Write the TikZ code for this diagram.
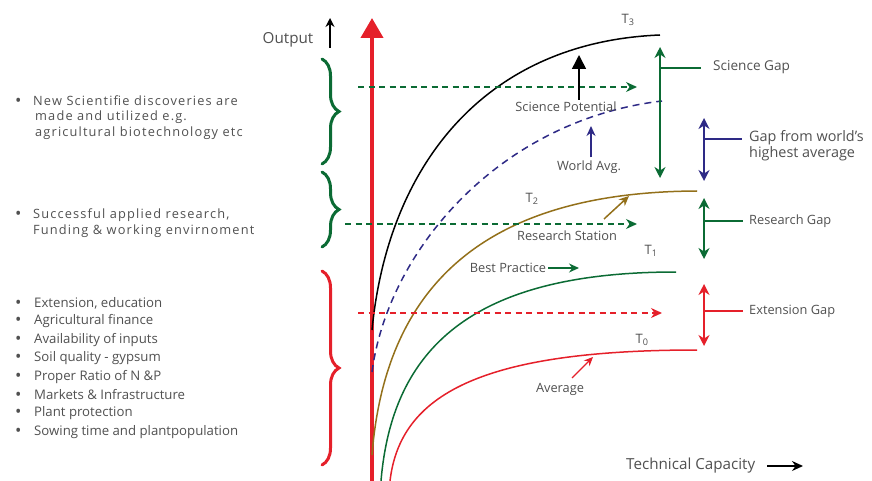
\documentclass[tikz,border=0pt]{standalone}
\usepackage{fontspec}
\setmainfont{Open Sans}
\newfontfamily\spacedfont[LetterSpace=9]{Open Sans}
\usetikzlibrary{arrows.meta,decorations.pathreplacing}

\definecolor{axisred}{HTML}{E5202A}
\definecolor{gapgreen}{HTML}{0B6B34}
\definecolor{worldblue}{HTML}{2E2A86}
\definecolor{stationbrown}{HTML}{93701A}
\definecolor{txtgray}{HTML}{505050}

\newcommand{\dotitem}[1]{\makebox[#1][l]{\raisebox{-1.2pt}{\fontsize{17}{17}\selectfont•}}}

\tikzset{
  lbl/.style={text=txtgray, inner sep=0pt, font=\fontsize{12.8}{15}\selectfont},
  biglbl/.style={lbl, font=\fontsize{15.2}{18}\selectfont},
  tlbl/.style={lbl, font=\fontsize{13}{15}\selectfont},
  curve/.style={line width=1.5pt},
  hdash/.style={line width=1.4pt, dash pattern=on 6pt off 4.5pt, -{Stealth[length=11pt,width=10pt]}},
  gap/.style={line width=2pt, {Stealth[length=11pt,width=11pt]}-{Stealth[length=11pt,width=11pt]}},
  ptr/.style={line width=1.5pt, -{Stealth[length=10pt,width=9pt]}},
  curly/.style={line width=3pt, line cap=round, decorate, decoration={brace, amplitude=17pt}}
}

\begin{document}
\begin{tikzpicture}[x=1pt, y=-1pt]
  \useasboundingbox (0,0) rectangle (872,481);

  % axes
  \draw[axisred, line width=4pt, -{Triangle[length=20pt,width=22pt]}] (372,481) -- (372,18);
  \node[biglbl] (out) at (288,40) {Output};
  \coordinate (outTip) at (330,18);
  \draw[line width=1.5pt, -{Stealth[length=9pt,width=9pt]}] (outTip |- out.south) -- (outTip);
  \node[biglbl, anchor=west] (tcap) at (626,466) {Technical Capacity};
  \coordinate (tcapTip) at (803,466);
  \draw[line width=1.5pt, -{Stealth[length=11pt,width=10pt]}] ([xshift=12pt]tcap.east) -- (tcapTip);

  % production curves
  \draw[curve, black] (372,330) .. controls (388,165) and (485,42) .. (660,35);
  \draw[curve, worldblue, dash pattern=on 7pt off 5pt] (372,372) .. controls (388,250) and (500,120) .. (662,101);
  \draw[curve, stationbrown] (372,455) .. controls (385,290) and (480,192) .. (697,191);
  \draw[curve, gapgreen] (381,481) .. controls (392,350) and (470,272) .. (676,272);
  \draw[curve, axisred] (390,481) .. controls (400,395) and (480,350) .. (697,350);

  \node[tlbl] (t3) at (628,20) {T\textsubscript{3}};
  \node[tlbl] (t2) at (532,199) {T\textsubscript{2}};
  \node[tlbl] (t1) at (651,251) {T\textsubscript{1}};
  \node[tlbl] (t0) at (642,340) {T\textsubscript{0}};

  % dashed levels
  \draw[hdash, gapgreen] (358,87) -- (637,87);
  \draw[hdash, gapgreen] (345,224) -- (637,224);
  \draw[hdash, axisred] (358,313) -- (662,313);

  % pointers to the curves
  \node[lbl] (spot) at (566,107) {Science Potential};
  \coordinate (spotTip) at (579,55);
  \draw[line width=1.5pt, -{Triangle[length=14pt,width=14pt]}] (spotTip |- spot.north) ++(0,-2) -- (spotTip);
  \node[lbl] (wavg) at (589,167) {World Avg.};
  \coordinate (wavgTip) at (591,126);
  \draw[ptr, worldblue] (wavgTip |- wavg.north) ++(0,-3) -- (wavgTip);
  \node[lbl] (rstat) at (567,236) {Research Station};
  \coordinate (rstatTip) at (629,196);
  \draw[ptr, stationbrown] (604,219) -- (rstatTip);
  \node[lbl] (bprac) at (508,268) {Best Practice};
  \coordinate (bpracTip) at (579,268);
  \draw[ptr, gapgreen] ([xshift=2pt]bprac.east) -- (bpracTip);
  \node[lbl] (avg) at (560,389) {Average};
  \coordinate (avgTip) at (593,357);
  \draw[line width=1.2pt, axisred, -{Stealth[length=9pt,width=8pt]}] (572,378) -- (avgTip);

  % gaps
  \coordinate (sgTop) at (660,47);   \coordinate (sgBot) at (660,178);
  \coordinate (wgTop) at (704,118);  \coordinate (wgBot) at (704,181);
  \coordinate (rgTop) at (704,198);  \coordinate (rgBot) at (704,259);
  \coordinate (egTop) at (704,284);  \coordinate (egBot) at (704,346);
  \draw[gap, gapgreen] (sgTop) -- (sgBot);
  \draw[gap, worldblue] (wgTop) -- (wgBot);
  \draw[gap, gapgreen] (rgTop) -- (rgBot);
  \draw[gap, axisred] (egTop) -- (egBot);

  \node[lbl, anchor=west, font=\fontsize{13.6}{16}\selectfont] (sg) at (713,67) {Science Gap};
  \node[lbl, anchor=west, align=left, font=\fontsize{14.4}{16}\selectfont] (wg) at (749,146) {Gap from world’s\\highest average};
  \node[lbl, anchor=west] (rg) at (749,221) {Research Gap};
  \node[lbl, anchor=west] (eg) at (749,311) {Extension Gap};
  \draw[gapgreen, line width=1.5pt] (sgTop |- 0,68) -- (701,68);
  \draw[worldblue, line width=1.5pt] (wgTop |- 0,139) -- (742,139);
  \draw[gapgreen, line width=1.5pt] (rgTop |- rg) -- ([xshift=-6pt]rg.west);
  \draw[axisred, line width=1.5pt] (egTop |- eg) -- ([xshift=-6pt]eg.west);

  % braces
  \draw[curly, gapgreen] (322,59) -- (322,164);
  \draw[curly, gapgreen] (322,172) -- (322,247);
  \draw[curly, axisred] (322,271) -- (322,465);

  % factors
  \begin{scope}[every node/.style={lbl, anchor=west, font=\spacedfont\fontsize{12.8}{15}\selectfont}]
    \node (b1) at (15,101) {\dotitem{18pt}New Scientifie discoveries are};
    \node (b1a) at (35,117) {made and utilized e.g.};
    \node (b1b) at (35,133) {agricultural biotechnology etc};
    \node (b2) at (15,215) {\dotitem{18pt}Successful applied research,};
    \node (b2a) at (33,231) {Funding \& working envirnoment};
  \end{scope}
  \foreach \y/\item in {303/{Extension, education}, 321/{Agricultural finance},
      340/{Availability of inputs}, 358/{Soil quality - gypsum},
      377/{Proper Ratio of N \&P}, 395/{Markets \& Infrastructure},
      413/{Plant protection}, 432/{Sowing time and plantpopulation}}
    \node[lbl, anchor=west, font=\fontsize{13.2}{15}\selectfont] at (15,\y) {\dotitem{19pt}\item};
\end{tikzpicture}
\end{document}
